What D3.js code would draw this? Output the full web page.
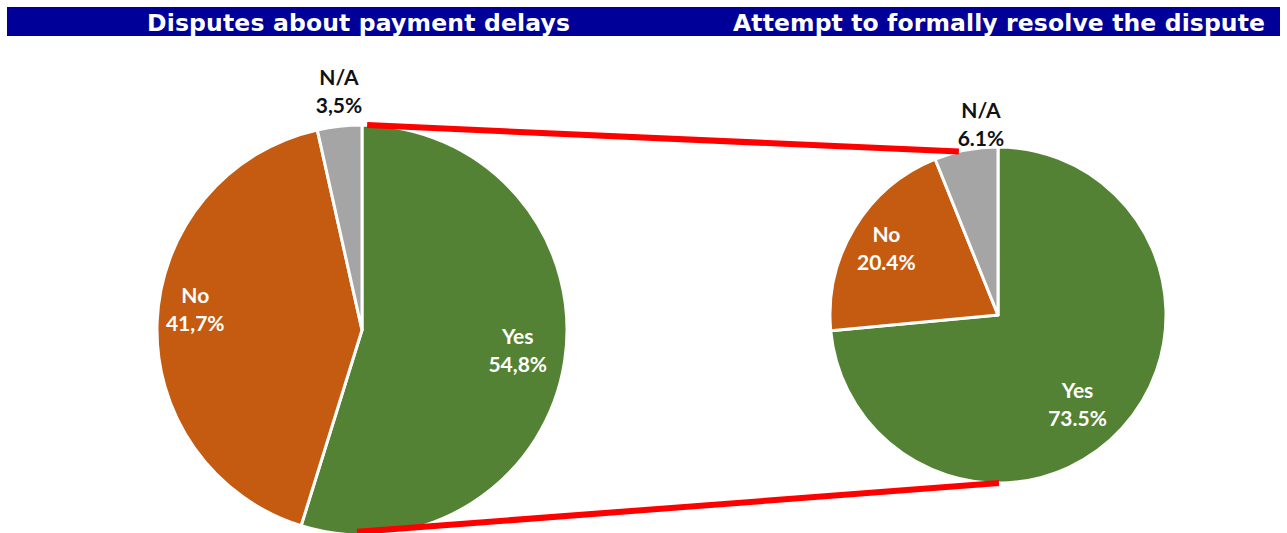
<!DOCTYPE html>
<html><head><meta charset="utf-8">
<script src="https://cdn.jsdelivr.net/npm/d3@7"></script>
<style>body{margin:0;background:#fff}svg{display:block}</style>
</head><body>
<svg id="c" width="1287" height="533"></svg>
<script>
const categories = ["Yes", "No", "N/A"];
const leftTitle = "Disputes about payment delays";
const rightTitle = "Attempt to formally resolve the dispute";
const leftValues = [54.8, 41.7, 3.5];
const leftLabels = ["54,8%", "41,7%", "3,5%"];
const rightValues = [73.5, 20.4, 6.1];
const rightLabels = ["73.5%", "20.4%", "6.1%"];
const colors = ["#548235", "#C55A11", "#A5A5A5"];

// label placement (radius fraction, angle in degrees clockwise from 12 o'clock)
const leftLabelPlace = [[0.766, 97.4], [0.82, 277.2], [1.17, -5.5]];
const rightLabelPlace = [[0.71, 138.2], [0.776, -58.9], [1.142, -5.1]];

const svg = d3.select("#c");
// header bar
svg.append("rect").attr("x", 7).attr("y", 7).attr("width", 1273).attr("height", 29).attr("fill", "#000099");
const tf = "'DejaVu Sans', Verdana, sans-serif";
svg.append("text").attr("x", 147).attr("y", 31)
  .attr("textLength", 423).attr("lengthAdjust", "spacing")
  .attr("font-family", tf).attr("font-weight", "bold").attr("font-size", 23.5).attr("fill", "#fff").text(leftTitle);
svg.append("text").attr("x", 733).attr("y", 31)
  .attr("textLength", 532).attr("lengthAdjust", "spacing")
  .attr("font-family", tf).attr("font-weight", "bold").attr("font-size", 23.5).attr("fill", "#fff").text(rightTitle);

const color = d3.scaleOrdinal().domain(categories).range(colors);
const pie = d3.pie().sort(null).value(d => d.v);
const lf = "Lato, 'Open Sans', sans-serif";

function drawPie(cx, cy, r, values, labels, place) {
  const data = categories.map((c, i) => ({c, v: values[i], l: labels[i], p: place[i]}));
  const arcs = pie(data);
  const arc = d3.arc().innerRadius(0).outerRadius(r);
  const g = svg.append("g").attr("transform", `translate(${cx},${cy})`);
  g.selectAll("path").data(arcs).join("path")
    .attr("d", arc).attr("fill", d => color(d.data.c))
    .attr("stroke", "#fff").attr("stroke-width", 3).attr("stroke-linejoin", "round");
  const t = g.selectAll("text.lbl").data(arcs).join("text")
    .attr("class", "lbl")
    .attr("text-anchor", "middle")
    .attr("font-family", lf).attr("font-weight", "bold").attr("font-size", 21)
    .attr("fill", d => d.data.c === "N/A" ? "#111" : "#fff")
    .attr("transform", d => {
      const a = d.data.p[1] * Math.PI / 180;
      const rr = r * d.data.p[0];
      return `translate(${Math.sin(a) * rr},${-Math.cos(a) * rr})`;
    });
  t.append("tspan").attr("x", 0).attr("y", -6).text(d => d.data.c);
  t.append("tspan").attr("x", 0).attr("y", 22).text(d => d.data.l);
  return {cx, cy, r};
}

const L = drawPie(362, 330, 205, leftValues, leftLabels, leftLabelPlace);
const R = drawPie(998, 315, 168, rightValues, rightLabels, rightLabelPlace);

// connector lines
function pt(p, ang, rf) { return [p.cx + Math.sin(ang) * p.r * rf, p.cy - Math.cos(ang) * p.r * rf]; }
const a1 = pt(L, 0.025, 1.0), b1 = pt(R, -0.235, 1.0);
const a2 = pt(L, Math.PI + 0.025, 0.985), b2 = pt(R, Math.PI, 1.0);
svg.append("line").attr("x1", a1[0]).attr("y1", a1[1]).attr("x2", b1[0]).attr("y2", b1[1])
  .attr("stroke", "#FF0000").attr("stroke-width", 6);
svg.append("line").attr("x1", a2[0]).attr("y1", a2[1]).attr("x2", b2[0] + 1).attr("y2", b2[1])
  .attr("stroke", "#FF0000").attr("stroke-width", 6);
</script>
</body></html>
